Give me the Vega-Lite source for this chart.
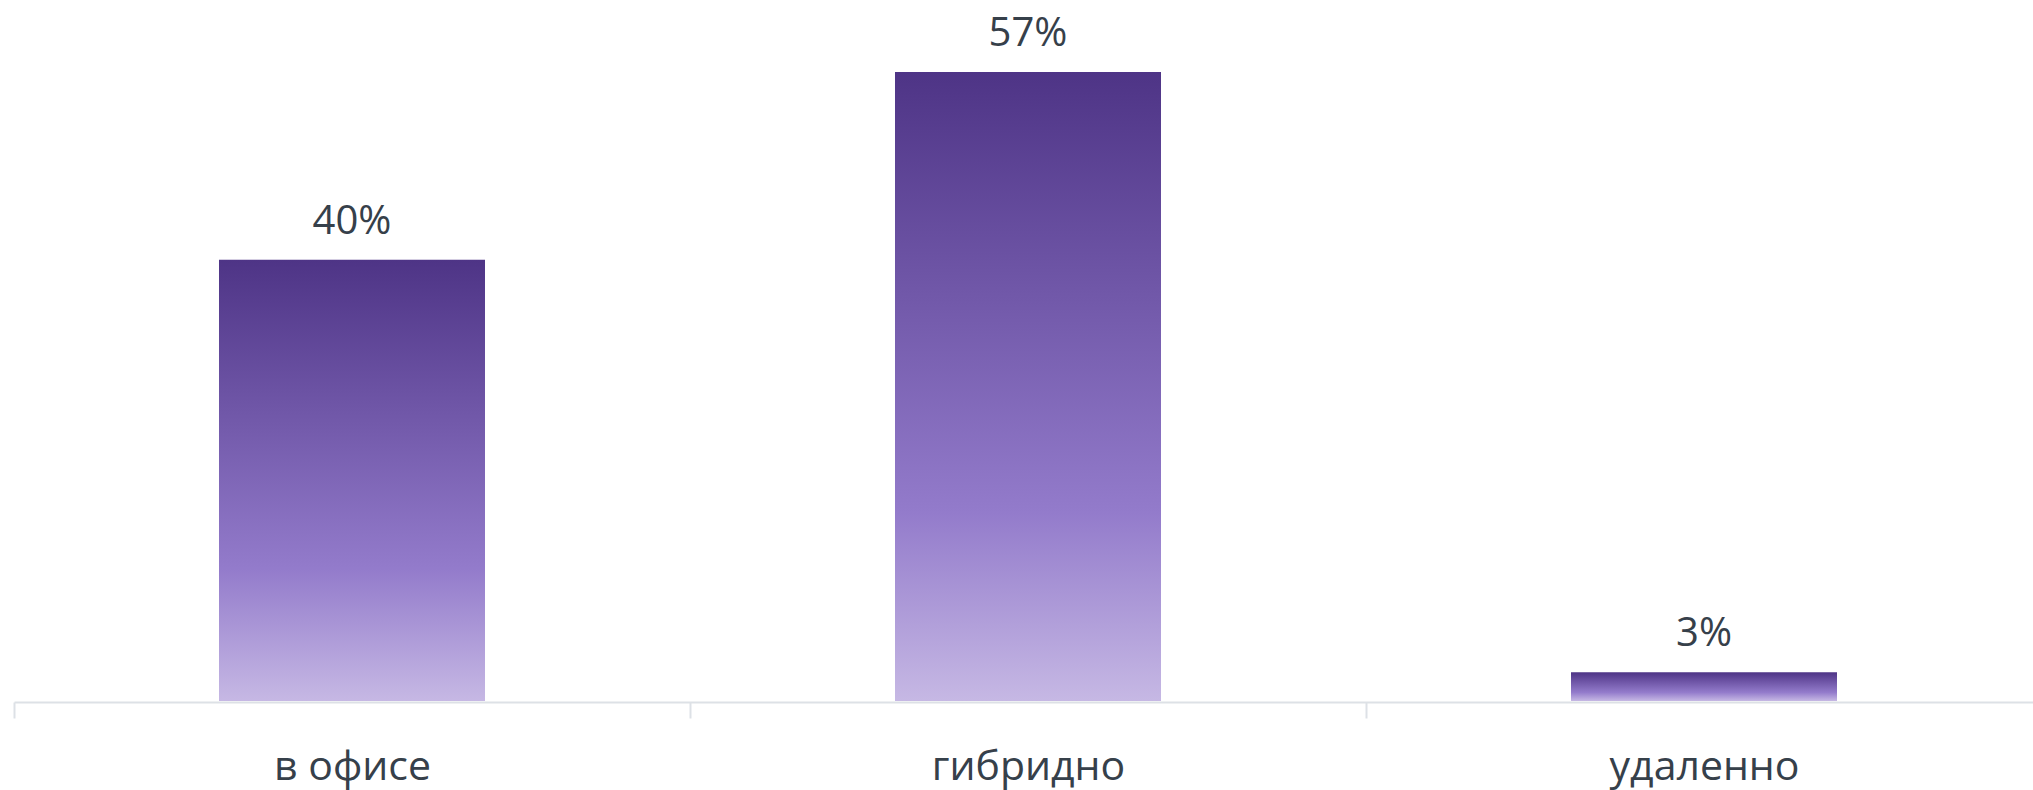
{
  "$schema": "https://vega.github.io/schema/vega-lite/v6.json",
  "autosize": "none",
  "width": 2019,
  "height": 662,
  "padding": {"left": 14, "top": 39, "right": 0, "bottom": 89},
  "background": "white",
  "config": {"view": {"stroke": null}, "font": "Open Sans"},
  "data": {
    "values": [
      {"category": "в офисе", "value": 40, "label": "40%"},
      {"category": "гибридно", "value": 57, "label": "57%"},
      {"category": "удаленно", "value": 2.6, "label": "3%"}
    ]
  },
  "encoding": {
    "x": {
      "field": "category",
      "type": "nominal",
      "sort": null,
      "scale": {"range": [0, 2028], "paddingInner": 0, "paddingOuter": 0},
      "axis": {
        "title": null,
        "labelAngle": 0,
        "labelLimit": 0,
        "labelFont": "Open Sans",
        "labelFontSize": 41,
        "labelColor": "#36404a",
        "labelBaseline": "alphabetic",
        "labelPadding": 61,
        "offset": 1,
        "domainColor": "#dde1e6",
        "domainWidth": 2,
        "tickColor": "#dde1e6",
        "tickWidth": 2,
        "tickSize": 16,
        "tickBand": "extent",
        "grid": false
      }
    },
    "y": {
      "field": "value",
      "type": "quantitative",
      "scale": {"domain": [0, 60], "nice": false},
      "axis": null
    }
  },
  "layer": [
    {
      "mark": {
        "type": "bar",
        "width": {"band": 0.3935},
        "color": {
          "gradient": "linear",
          "x1": 0, "y1": 0, "x2": 0, "y2": 1,
          "stops": [
            {"offset": 0, "color": "#4e3486"},
            {"offset": 0.7, "color": "#937bcb"},
            {"offset": 1, "color": "#c6b8e4"}
          ]
        }
      }
    },
    {
      "mark": {
        "type": "text",
        "font": "Open Sans",
        "fontSize": 40,
        "color": "#36404a",
        "baseline": "alphabetic",
        "align": "center",
        "dy": -26
      },
      "encoding": {"text": {"field": "label"}}
    }
  ]
}
